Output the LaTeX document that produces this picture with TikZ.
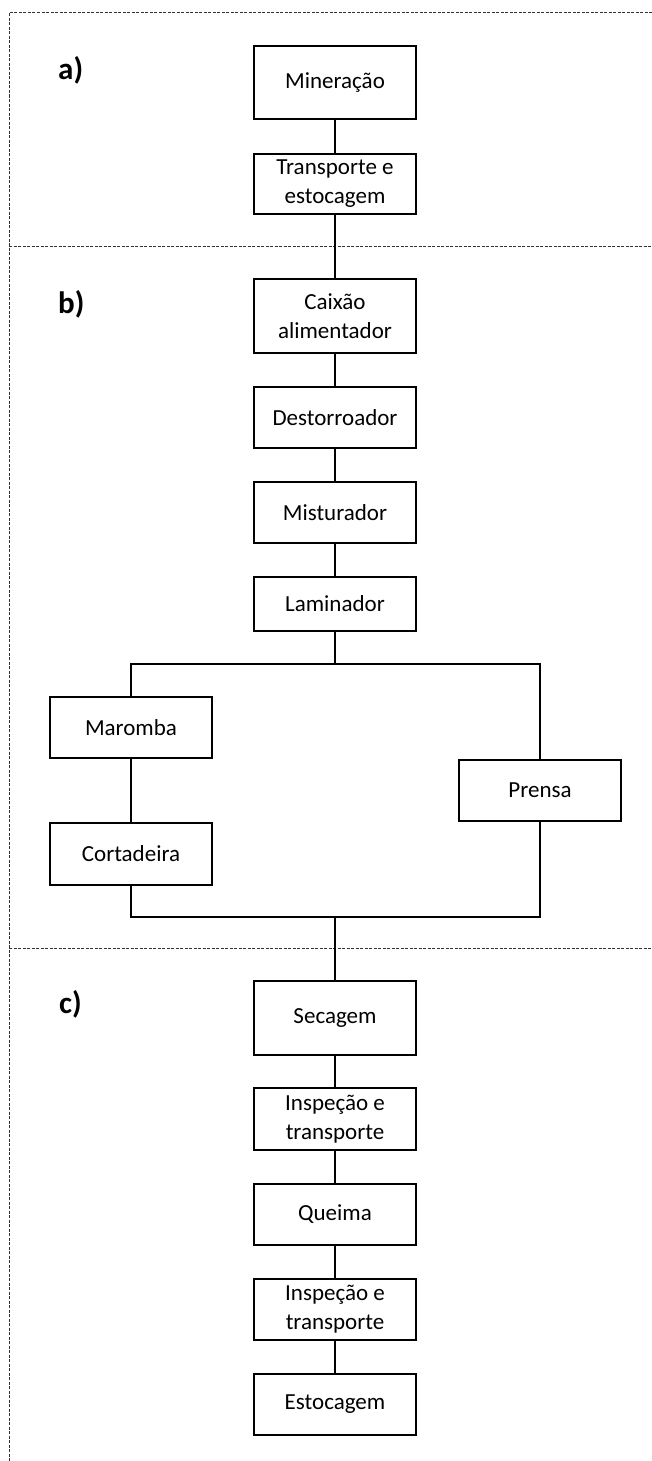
\documentclass[tikz,border=0pt]{standalone}
\usepackage{fontspec}
\setmainfont{Carlito}
\begin{document}
\begin{tikzpicture}[x=1pt,y=-1pt,
  procbox/.style={draw=black, line width=2.3pt, rectangle, inner sep=0pt, align=center,
    minimum width=162pt, font=\fontsize{23}{29}\selectfont},
  conn/.style={draw=black, line width=2.3pt},
  sect/.style={draw=black!80, line width=1pt, dash pattern=on 3pt off 1.5pt},
  partlabel/.style={anchor=base west, inner sep=0pt, font=\fontsize{31}{36}\selectfont\bfseries}]
\useasboundingbox (0,0) rectangle (652,1461);
% section frame
\coordinate (tl) at (9,13);
\coordinate (tr) at (652,13);
\coordinate (bl) at (9,1461);
\coordinate (d1l) at (9,246);
\coordinate (d1r) at (652,246);
\coordinate (d2l) at (9,948);
\coordinate (d2r) at (652,948);
\draw[sect] (tr) -- (tl) -- (bl);
\draw[sect] (d1l) -- (d1r);
\draw[sect] (d2l) -- (d2r);
% labels
\node[partlabel] (la) at (58,80) {a)};
\node[partlabel] (lb) at (58,313) {b)};
\node[partlabel] (lc) at (59,1013) {c)};
% boxes
\node[procbox, minimum height=73pt] (min) at (335,82.5) {Mineração};
\node[procbox, minimum height=60pt] (tra) at (335,184) {Transporte e\\estocagem};
\node[procbox, minimum height=74pt] (cai) at (335,316) {Caixão\\alimentador};
\node[procbox, minimum height=61pt] (des) at (335,417.5) {Destorroador};
\node[procbox, minimum height=61pt] (mis) at (335,512.5) {Misturador};
\node[procbox, minimum height=54pt] (lam) at (335,604) {Laminador};
\node[procbox, minimum height=61pt] (mar) at (131,727.5) {Maromba};
\node[procbox, minimum height=62pt] (cor) at (131,854) {Cortadeira};
\node[procbox, minimum height=61pt] (pre) at (540,790.5) {Prensa};
\node[procbox, minimum height=74pt] (sec) at (335,1018) {Secagem};
\node[procbox, minimum height=62pt] (in1) at (335,1119) {Inspeção e\\transporte};
\node[procbox, minimum height=61pt] (que) at (335,1214.5) {Queima};
\node[procbox, minimum height=61pt] (in2) at (335,1309.5) {Inspeção e\\transporte};
\node[procbox, minimum height=61pt] (est) at (335,1404.5) {Estocagem};
% connectors
\coordinate (split) at (335,664);
\coordinate (join) at (335,917);
\draw[conn] (min) -- (tra);
\draw[conn] (tra) -- (cai);
\draw[conn] (cai) -- (des);
\draw[conn] (des) -- (mis);
\draw[conn] (mis) -- (lam);
\draw[conn] (lam) -- (split);
\draw[conn] (mar.north) |- (split) -| (pre.north);
\draw[conn] (mar) -- (cor);
\draw[conn] (cor.south) |- (join) -| (pre.south);
\draw[conn] (join) -- (sec);
\draw[conn] (sec) -- (in1);
\draw[conn] (in1) -- (que);
\draw[conn] (que) -- (in2);
\draw[conn] (in2) -- (est);
\end{tikzpicture}
\end{document}
